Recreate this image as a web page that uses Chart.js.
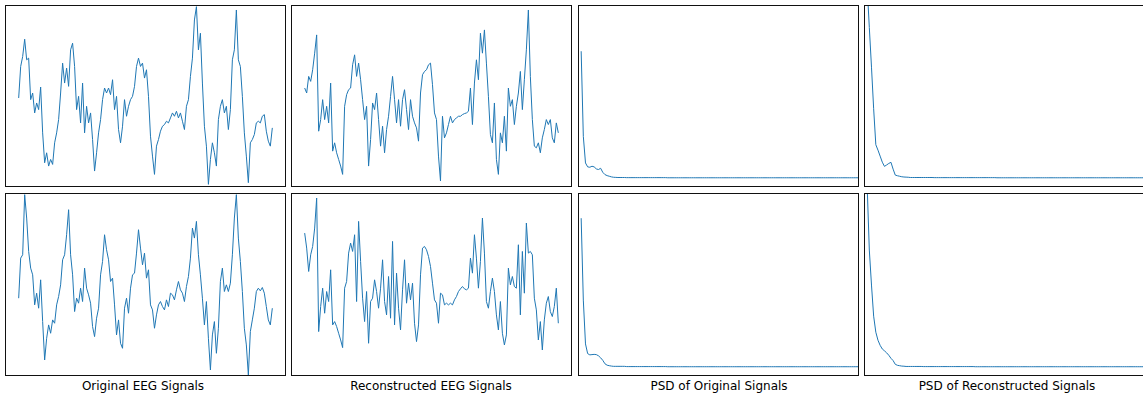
<!DOCTYPE html>
<html>
<head>
<meta charset="utf-8">
<script src="https://cdn.jsdelivr.net/npm/chart.js@4.4.1/dist/chart.umd.min.js"></script>
<style>
  body { margin: 0; background: #fff; width: 1143px; height: 402px; overflow: hidden; position: relative;
         font-family: "DejaVu Sans", sans-serif; }
  canvas { position: absolute; }
  .lbl { position: absolute; top: 379px; width: 300px; height: 14px; line-height: 14px;
         font-size: 12px; text-align: center; color: #000; }
</style>
</head>
<body>
<script>
// EEG samples (arbitrary units), 128 samples each
const eegOrig1 = [
  -0.5, 9.0, 12.0, 17.2, 11.0, 11.5, -1.0, 1.0, -5.0, -2.0,
  -4.0, 2.8, -11.0, -20.0, -17.0, -21.0, -19.0, -20.5, -14.0, -11.0,
  -7.0, 1.0, 10.0, 4.0, 8.5, 3.0, 14.0, 16.0, 9.0, -4.0,
  0.0, -8.0, 4.0, -11.0, -3.0, -8.0, -5.0, -13.0, -22.5, -17.0,
  -11.0, -7.0, -1.0, 2.5, 1.0, 2.5, 0.5, 5.0, -4.0, 0.0,
  -10.0, -14.0, -9.0, -1.0, -6.0, -3.0, -1.0, 0.0, 3.0, 9.0,
  11.5, 9.0, 10.0, 5.5, 8.0, 0.0, -12.0, -18.0, -23.5, -15.0,
  -13.0, -10.5, -9.0, -8.5, -7.5, -8.0, -6.5, -5.0, -6.0, -4.5,
  -6.5, -5.0, -7.5, -10.0, -3.0, -1.0, 6.0, 11.5, 23.0, 27.0,
  14.0, 19.0, 4.0, -9.0, -15.0, -26.5, -19.0, -14.0, -17.0, -21.0,
  -7.0, -3.0, -1.0, -5.0, -3.0, -10.0, -4.0, 11.0, 14.0, 26.0,
  11.0, 9.0, 0.0, -11.0, -18.0, -26.0, -14.0, -13.0, -11.5, -8.0,
  -7.5, -8.0, -6.0, -5.5, -10.5, -13.5, -15.0, -9.5
];
const eegRec1 = [
  2.5, 1.0, 6.0, 4.5, 8.0, 13.0, 18.5, -10.5, -7.0, -1.0,
  -7.0, -3.0, -8.0, 4.0, -16.5, -14.0, -17.0, -19.0, -21.0, -23.5,
  -3.0, 0.5, 2.0, 2.5, 9.5, 12.5, 6.0, 10.0, 5.0, -1.0,
  -7.0, -3.0, -21.0, -13.0, -2.0, -4.0, 1.0, -7.0, -15.0, -9.0,
  -17.0, -10.0, -6.0, 0.0, 6.0, -1.0, -8.0, -1.0, -9.0, -1.0,
  2.0, -4.0, -10.0, -1.0, -6.0, -8.0, -9.5, -13.5, 1.0, 6.5,
  7.5, 8.0, 9.5, 10.0, 3.5, -5.0, -7.0, -18.0, -25.5, -6.0,
  -12.5, -11.0, -8.5, -6.0, -8.0, -7.0, -6.5, -6.0, -6.0, -5.5,
  -5.2, -5.0, -4.5, 2.5, -8.5, 4.0, 11.0, 5.0, 19.0, 13.0,
  20.0, 10.0, 0.0, -11.5, -14.0, -2.0, -19.0, -23.5, -11.0, -14.0,
  -6.0, -16.5, 2.5, -3.0, -1.0, -8.5, -3.0, 1.0, 7.5, -4.0,
  5.0, 14.0, 26.0, 6.0, -7.0, -15.0, -15.5, -14.0, -17.0, -12.5,
  -10.0, -7.0, -8.5, -7.0, -12.5, -14.0, -8.0, -11.0
];
const eegOrig2 = [
  -4.0, 8.0, 9.0, 27.0, 20.0, 10.0, 5.0, 3.0, -6.0, -2.5,
  -7.0, 1.5, -11.0, -22.5, -16.0, -12.0, -14.5, -10.5, -11.5, -6.0,
  -3.5, 0.0, 7.5, 9.0, 15.0, 22.5, 9.0, 3.0, -8.0, -4.0,
  -5.5, -1.0, -5.0, 5.0, -1.0, -3.0, -5.5, -12.5, -15.5, -10.0,
  -7.0, 3.0, 7.0, 15.0, 10.5, 7.5, 1.0, 2.0, -6.0, -15.0,
  -10.5, -17.5, -19.0, -7.0, -4.0, -8.5, -1.0, 3.0, 3.5, 9.5,
  16.5, 11.0, 6.0, 9.5, 2.0, 4.5, -6.0, -7.5, -13.0, -9.0,
  -6.0, -5.0, -6.5, -7.5, -4.5, -6.5, -2.5, -3.0, -4.5, -1.5,
  1.0, -1.5, -2.5, -5.0, -0.5, 2.5, 8.0, 17.0, 14.0, 19.0,
  9.0, 3.0, -4.0, -12.0, -5.0, -16.0, -25.5, -15.0, -11.0, -20.5,
  -13.0, 1.0, 5.0, -2.0, 0.0, -2.0, 0.5, 9.0, 20.0, 27.0,
  14.0, 7.0, -2.0, -13.0, -18.0, -27.0, -14.0, -10.5, -7.0, -2.0,
  -1.0, -1.8, -0.8, -2.5, -6.5, -10.5, -12.0, -7.0
];
const eegRec2 = [
  15.5, 11.0, 4.0, 9.0, 11.5, 17.0, 26.0, -14.0, -6.5, -1.0,
  -8.5, -2.0, -5.0, 4.5, -12.0, -11.0, -12.5, -14.5, -16.5, -18.8,
  -1.0, 1.0, 9.5, 12.5, 10.0, 15.0, -5.0, 19.0, 7.0, -4.0,
  -11.0, -2.0, -17.5, -5.0, -4.0, 1.5, -2.0, -7.0, -1.0, 7.5,
  -5.0, -9.0, 2.5, -10.0, 13.0, -12.0, 3.5, -7.0, -13.5, -1.5,
  7.5, -5.5, 0.5, -4.5, 0.5, -11.5, -17.0, -12.0, 3.0, 11.0,
  11.5, 10.5, 8.5, 5.5, 0.5, -4.5, -5.5, -11.5, -2.5, -3.0,
  -6.0, -5.5, -6.0, -5.5, -6.0, -4.5, -3.5, -2.0, -1.2, -0.5,
  -1.2, -1.5, -1.0, 8.0, 3.5, 15.0, 8.0, -1.0, 7.0, 20.0,
  9.5, -5.0, -7.0, -2.0, 2.0, -2.0, -9.0, -13.5, -5.0, -14.5,
  -18.0, -15.0, 5.0, 0.0, 2.5, -0.5, -1.0, 12.0, -9.0, 10.0,
  -2.5, 18.5, 9.5, 10.0, 9.0, -4.0, -7.5, -16.5, -11.0, -19.5,
  -10.5, -5.5, -3.5, -8.0, -9.5, -6.5, -1.0, -11.5
];

// PSD values, 129 frequency bins each
const psdOrig1 = [
  10.0, 3.28, 1.18, 0.87, 0.84, 0.92, 0.87, 0.71, 0.66, 0.76,
  0.44, 0.26, 0.18, 0.13, 0.08, 0.05, 0.04, 0.03, 0.03, 0.03,
  0.03, 0.02, 0.02, 0.02, 0.02, 0.02, 0.02, 0.02, 0.02, 0.02,
  0.02, 0.02, 0.02, 0.02, 0.02, 0.02, 0.02, 0.02, 0.02, 0.02,
  0.01, 0.01, 0.01, 0.01, 0.01, 0.01, 0.01, 0.01, 0.01, 0.01,
  0.01, 0.01, 0.01, 0.01, 0.01, 0.01, 0.01, 0.01, 0.01, 0.01,
  0.01, 0.01, 0.01, 0.01, 0.01, 0.01, 0.01, 0.01, 0.01, 0.01,
  0.01, 0.01, 0.01, 0.01, 0.01, 0.01, 0.01, 0.01, 0.01, 0.01,
  0.01, 0.01, 0.01, 0.01, 0.01, 0.01, 0.01, 0.01, 0.01, 0.01,
  0.01, 0.01, 0.01, 0.01, 0.01, 0.01, 0.01, 0.01, 0.01, 0.01,
  0.01, 0.01, 0.01, 0.01, 0.01, 0.01, 0.01, 0.01, 0.01, 0.01,
  0.01, 0.01, 0.01, 0.01, 0.01, 0.01, 0.01, 0.01, 0.01, 0.01,
  0.01, 0.01, 0.01, 0.01, 0.01, 0.01, 0.01, 0.01, 0.01
];
const psdRec1 = [
  15.1, 11.87, 8.74, 5.46, 2.62, 2.19, 1.72, 1.24, 0.91, 1.02,
  1.14, 1.23, 0.69, 0.22, 0.17, 0.13, 0.09, 0.07, 0.06, 0.05,
  0.03, 0.03, 0.03, 0.03, 0.03, 0.03, 0.03, 0.03, 0.03, 0.03,
  0.03, 0.02, 0.02, 0.02, 0.02, 0.02, 0.02, 0.02, 0.02, 0.02,
  0.02, 0.02, 0.02, 0.02, 0.02, 0.02, 0.02, 0.02, 0.02, 0.02,
  0.02, 0.02, 0.02, 0.02, 0.02, 0.02, 0.02, 0.02, 0.02, 0.02,
  0.01, 0.01, 0.01, 0.01, 0.01, 0.01, 0.01, 0.01, 0.01, 0.01,
  0.01, 0.01, 0.01, 0.01, 0.01, 0.01, 0.01, 0.01, 0.01, 0.01,
  0.01, 0.01, 0.01, 0.01, 0.01, 0.01, 0.01, 0.01, 0.01, 0.01,
  0.01, 0.01, 0.01, 0.01, 0.01, 0.01, 0.01, 0.01, 0.01, 0.01,
  0.01, 0.01, 0.01, 0.01, 0.01, 0.01, 0.01, 0.01, 0.01, 0.01,
  0.01, 0.01, 0.01, 0.01, 0.01, 0.01, 0.01, 0.01, 0.01, 0.01,
  0.01, 0.01, 0.01, 0.01, 0.01, 0.01, 0.01, 0.01, 0.01
];
const psdOrig2 = [
  11.67, 5.24, 1.8, 1.04, 0.94, 0.96, 0.98, 0.96, 0.87, 0.71,
  0.51, 0.24, 0.13, 0.09, 0.06, 0.04, 0.04, 0.04, 0.04, 0.04,
  0.04, 0.02, 0.02, 0.02, 0.02, 0.02, 0.02, 0.02, 0.02, 0.02,
  0.02, 0.02, 0.02, 0.02, 0.02, 0.02, 0.02, 0.02, 0.02, 0.02,
  0.01, 0.01, 0.01, 0.01, 0.01, 0.01, 0.01, 0.01, 0.01, 0.01,
  0.01, 0.01, 0.01, 0.01, 0.01, 0.01, 0.01, 0.01, 0.01, 0.01,
  0.01, 0.01, 0.01, 0.01, 0.01, 0.01, 0.01, 0.01, 0.01, 0.01,
  0.01, 0.01, 0.01, 0.01, 0.01, 0.01, 0.01, 0.01, 0.01, 0.01,
  0.01, 0.01, 0.01, 0.01, 0.01, 0.01, 0.01, 0.01, 0.01, 0.01,
  0.01, 0.01, 0.01, 0.01, 0.01, 0.01, 0.01, 0.01, 0.01, 0.01,
  0.01, 0.01, 0.01, 0.01, 0.01, 0.01, 0.01, 0.01, 0.01, 0.01,
  0.01, 0.01, 0.01, 0.01, 0.01, 0.01, 0.01, 0.01, 0.01, 0.01,
  0.01, 0.01, 0.01, 0.01, 0.01, 0.01, 0.01, 0.01, 0.01
];
const psdRec2 = [
  14.2, 9.17, 6.42, 3.98, 2.72, 2.09, 1.69, 1.40, 1.26, 1.10,
  0.91, 0.67, 0.49, 0.20, 0.12, 0.09, 0.06, 0.05, 0.03, 0.03,
  0.03, 0.03, 0.03, 0.03, 0.03, 0.03, 0.02, 0.02, 0.02, 0.02,
  0.02, 0.02, 0.02, 0.02, 0.02, 0.02, 0.02, 0.02, 0.02, 0.02,
  0.02, 0.02, 0.02, 0.02, 0.02, 0.02, 0.02, 0.02, 0.02, 0.02,
  0.01, 0.01, 0.01, 0.01, 0.01, 0.01, 0.01, 0.01, 0.01, 0.01,
  0.01, 0.01, 0.01, 0.01, 0.01, 0.01, 0.01, 0.01, 0.01, 0.01,
  0.01, 0.01, 0.01, 0.01, 0.01, 0.01, 0.01, 0.01, 0.01, 0.01,
  0.01, 0.01, 0.01, 0.01, 0.01, 0.01, 0.01, 0.01, 0.01, 0.01,
  0.01, 0.01, 0.01, 0.01, 0.01, 0.01, 0.01, 0.01, 0.01, 0.01,
  0.01, 0.01, 0.01, 0.01, 0.01, 0.01, 0.01, 0.01, 0.01, 0.01,
  0.01, 0.01, 0.01, 0.01, 0.01, 0.01, 0.01, 0.01, 0.01, 0.01,
  0.01, 0.01, 0.01, 0.01, 0.01, 0.01, 0.01, 0.01, 0.01
];

const sampleIdx = eegOrig1.map((_, i) => i);
const freqs = psdOrig1.map((_, i) => i);

const colLabels = ['Original EEG Signals', 'Reconstructed EEG Signals',
                   'PSD of Original Signals', 'PSD of Reconstructed Signals'];

// black frame around each axes
const frame = {
  id: 'frame',
  afterDraw(chart) {
    const { ctx, chartArea: a } = chart;
    ctx.save();
    ctx.strokeStyle = '#111';
    ctx.lineWidth = 1;
    ctx.strokeRect(a.left - 0.5, a.top - 0.5, a.width + 1, a.height + 1);
    ctx.restore();
  }
};

function panel(left, top, h, xs, ys, xr, yr) {
  const cv = document.createElement('canvas');
  cv.width = 281;
  cv.height = h + 2;
  cv.style.left = (left - 1) + 'px';
  cv.style.top = (top - 1) + 'px';
  document.body.appendChild(cv);
  new Chart(cv, {
    type: 'line',
    data: {
      datasets: [{
        data: xs.map((x, i) => ({ x: x, y: ys[i] })),
        borderColor: '#1f77b4',
        borderWidth: 1,
        pointRadius: 0,
        tension: 0,
        fill: false
      }]
    },
    options: {
      responsive: false,
      animation: false,
      devicePixelRatio: 1,
      events: [],
      layout: { padding: 1 },
      plugins: { legend: { display: false }, tooltip: { enabled: false } },
      scales: {
        x: { type: 'linear', display: false, min: xr[0], max: xr[1] },
        y: { display: false, min: yr[0], max: yr[1] }
      }
    },
    plugins: [frame]
  });
}

const lefts = [6, 292, 579, 865];
const eegX = [-6.35, 133.35], eegY = [-27.0, 27.2];
const psdX = [-1, 128], psdY = [-0.64, 13.57];

panel(lefts[0], 6, 180, sampleIdx, eegOrig1, eegX, eegY);
panel(lefts[1], 6, 180, sampleIdx, eegRec1, eegX, eegY);
panel(lefts[2], 6, 180, freqs, psdOrig1, psdX, psdY);
panel(lefts[3], 6, 180, freqs, psdRec1, psdX, psdY);
panel(lefts[0], 194, 181, sampleIdx, eegOrig2, eegX, eegY);
panel(lefts[1], 194, 181, sampleIdx, eegRec2, eegX, eegY);
panel(lefts[2], 194, 181, freqs, psdOrig2, psdX, psdY);
panel(lefts[3], 194, 181, freqs, psdRec2, psdX, psdY);

const centers = [143, 431, 719, 1007];
colLabels.forEach((t, i) => {
  const d = document.createElement('div');
  d.className = 'lbl';
  d.style.left = (centers[i] - 150) + 'px';
  d.textContent = t;
  document.body.appendChild(d);
});
</script>
</body>
</html>
